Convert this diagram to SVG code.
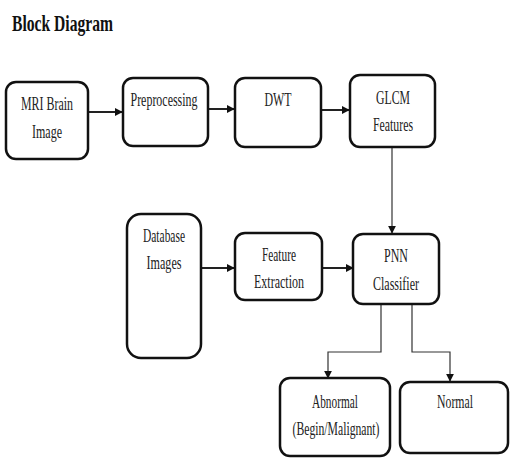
<svg xmlns="http://www.w3.org/2000/svg" width="514" height="458" viewBox="0 0 514 458">
<defs>
<style>
.box{fill:#fff;stroke:#111;stroke-width:2.5}
.t{font-family:"Liberation Serif","Times New Roman",serif;font-size:18px;fill:#222;text-anchor:middle}
.title{font-family:"Liberation Serif","Times New Roman",serif;font-size:23px;font-weight:bold;fill:#111}
.c{fill:none;stroke:#222;stroke-width:2}
.c1{fill:none;stroke:#333;stroke-width:1.2}
</style>
<marker id="ah" viewBox="0 0 10 10" refX="9" refY="5" markerWidth="8" markerHeight="8" markerUnits="userSpaceOnUse" orient="auto">
<path d="M0,0 L10,5 L0,10 z" fill="#111"/>
</marker>
</defs>
<rect width="514" height="458" fill="#fff"/>
<text class="title" x="12" y="31" textLength="101" lengthAdjust="spacingAndGlyphs">Block Diagram</text>

<g id="connectors">
<line class="c" x1="88" y1="112" x2="122" y2="112" marker-end="url(#ah)"/>
<line class="c" x1="208" y1="109" x2="234" y2="109" marker-end="url(#ah)"/>
<line class="c" x1="321" y1="110" x2="349" y2="110" marker-end="url(#ah)"/>
<line class="c1" x1="392" y1="147" x2="392" y2="233" marker-end="url(#ah)"/>
<line class="c" x1="201" y1="268" x2="234" y2="268" marker-end="url(#ah)"/>
<line class="c" x1="322" y1="268" x2="353" y2="268" marker-end="url(#ah)"/>
<polyline class="c1" points="381,304 381,352 328,352 328,378" marker-end="url(#ah)"/>
<polyline class="c1" points="412,304 412,352 450,352 450,381" marker-end="url(#ah)"/>
</g>

<g id="mri">
<rect class="box" x="6" y="82" width="82" height="77" rx="10"/>
<text class="t" x="47" y="110" textLength="52" lengthAdjust="spacingAndGlyphs">MRI Brain</text>
<text class="t" x="47" y="138" textLength="30" lengthAdjust="spacingAndGlyphs">Image</text>
</g>
<g id="preprocessing">
<rect class="box" x="123" y="78" width="85" height="68" rx="10"/>
<text class="t" x="164" y="106" textLength="67" lengthAdjust="spacingAndGlyphs">Preprocessing</text>
</g>
<g id="dwt">
<rect class="box" x="235" y="78" width="86" height="69" rx="10"/>
<text class="t" x="278" y="106" textLength="27" lengthAdjust="spacingAndGlyphs">DWT</text>
</g>
<g id="glcm">
<rect class="box" x="350" y="75" width="85" height="72" rx="10"/>
<text class="t" x="393" y="104" textLength="34" lengthAdjust="spacingAndGlyphs">GLCM</text>
<text class="t" x="393" y="131" textLength="40" lengthAdjust="spacingAndGlyphs">Features</text>
</g>
<g id="database">
<rect class="box" x="127" y="214" width="74" height="144" rx="14"/>
<text class="t" x="164" y="242" textLength="42" lengthAdjust="spacingAndGlyphs">Database</text>
<text class="t" x="164" y="269" textLength="35" lengthAdjust="spacingAndGlyphs">Images</text>
</g>
<g id="feature">
<rect class="box" x="235" y="233" width="87" height="67" rx="10"/>
<text class="t" x="279" y="261" textLength="34" lengthAdjust="spacingAndGlyphs">Feature</text>
<text class="t" x="279" y="288" textLength="50" lengthAdjust="spacingAndGlyphs">Extraction</text>
</g>
<g id="pnn">
<rect class="box" x="353" y="234" width="86" height="70" rx="10"/>
<text class="t" x="396" y="262" textLength="24" lengthAdjust="spacingAndGlyphs">PNN</text>
<text class="t" x="396" y="290" textLength="46" lengthAdjust="spacingAndGlyphs">Classifier</text>
</g>
<g id="abnormal">
<rect class="box" x="280" y="378" width="110" height="78" rx="10"/>
<text class="t" x="335" y="408" textLength="46" lengthAdjust="spacingAndGlyphs">Abnormal</text>
<text class="t" x="336" y="435" textLength="87" lengthAdjust="spacingAndGlyphs">(Begin/Malignant)</text>
</g>
<g id="normal">
<rect class="box" x="400" y="382" width="108" height="71" rx="10"/>
<text class="t" x="455" y="408" textLength="36" lengthAdjust="spacingAndGlyphs">Normal</text>
</g>
</svg>
